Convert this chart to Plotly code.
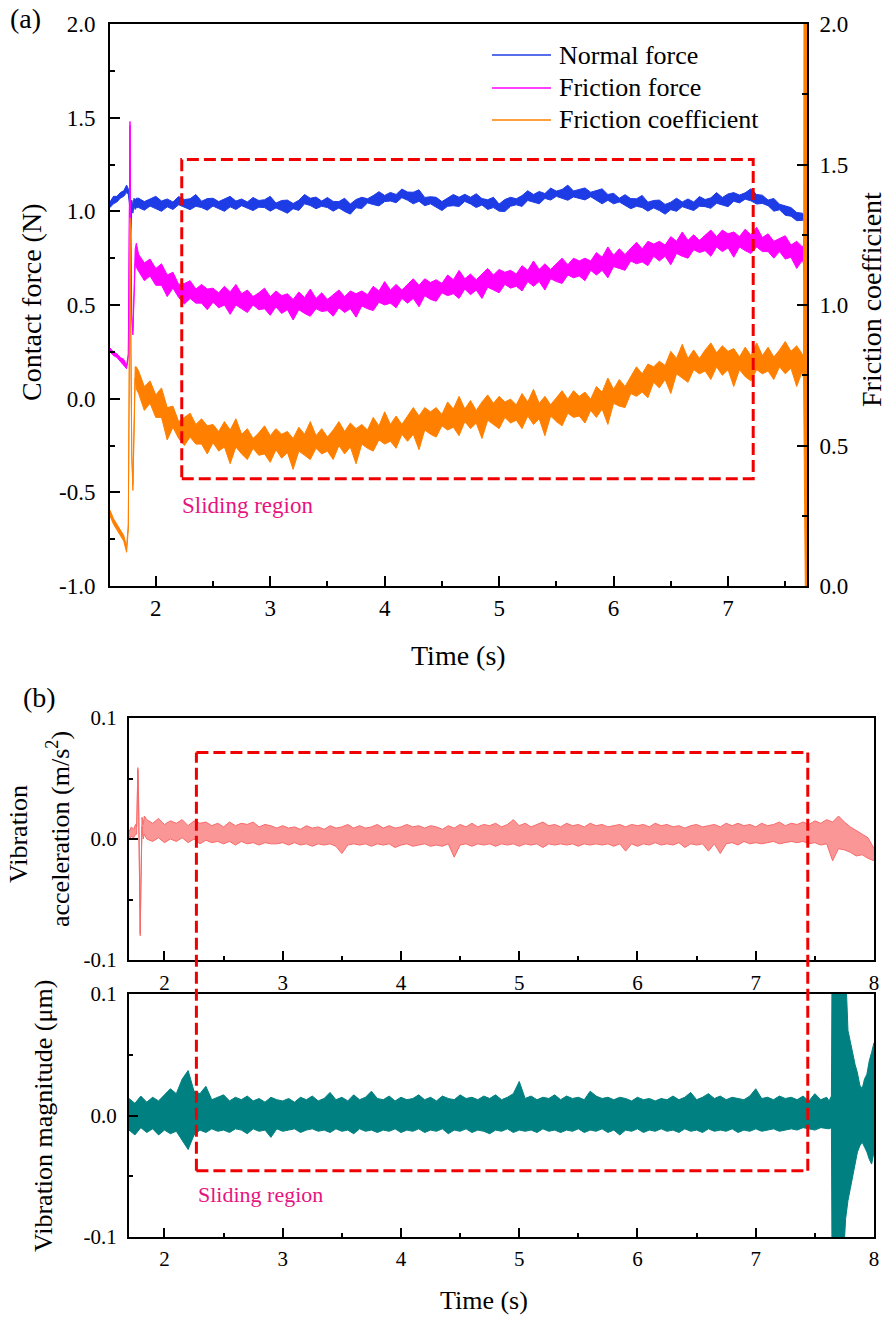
import plotly.graph_objects as go

# ---------------- data: panel (a) ----------------
t_a_start = [1.60, 1.63, 1.66, 1.69, 1.72, 1.745, 1.76, 1.77, 1.775, 1.78, 1.785, 1.79, 1.80, 1.81, 1.82, 1.83]
t_a_main = [round(1.85 + 0.05 * i, 2) for i in range(117)]
t_a_end = [7.66, 7.665, 7.67, 7.675, 7.68, 7.685, 7.69]
t_a = t_a_start + t_a_main + t_a_end

normal_hi = ([1.05, 1.08, 1.08, 1.10, 1.11, 1.14, 1.12, 1.06, 0.95, 0.90, 0.97, 1.06, 1.03, 1.07, 1.06, 1.07] +
    [1.070, 1.052, 1.066, 1.080, 1.055, 1.066, 1.050, 1.079, 1.063, 1.067,
     1.090, 1.054, 1.068, 1.070, 1.052, 1.064, 1.080, 1.055, 1.066, 1.050,
     1.074, 1.058, 1.062, 1.080, 1.044, 1.058, 1.060, 1.042, 1.059, 1.090,
     1.070, 1.076, 1.055, 1.074, 1.053, 1.052, 1.070, 1.039, 1.063, 1.075,
     1.067, 1.084, 1.105, 1.085, 1.101, 1.090, 1.119, 1.103, 1.102, 1.115,
     1.074, 1.078, 1.075, 1.052, 1.069, 1.090, 1.075, 1.091, 1.075, 1.094,
     1.068, 1.062, 1.075, 1.039, 1.063, 1.075, 1.067, 1.084, 1.110, 1.090,
     1.106, 1.095, 1.124, 1.108, 1.117, 1.140, 1.109, 1.118, 1.125, 1.102,
     1.109, 1.120, 1.090, 1.096, 1.070, 1.089, 1.068, 1.067, 1.085, 1.049,
     1.058, 1.060, 1.037, 1.049, 1.070, 1.050, 1.066, 1.050, 1.079, 1.063,
     1.072, 1.100, 1.074, 1.093, 1.100, 1.087, 1.099, 1.120, 1.090, 1.086,
     1.060, 1.069, 1.038, 1.027, 1.020, 0.994, 0.990] +
    [0.98, 0.97, 0.98, 0.97, 0.97, 0.97, 0.97])
normal_lo = ([1.02, 1.04, 1.05, 1.07, 1.08, 1.10, 1.09, 1.04, 0.93, 0.88, 0.95, 1.02, 0.99, 1.03, 1.01, 1.02] +
    [1.020, 1.006, 1.028, 1.014, 1.000, 1.024, 1.010, 1.035, 1.021, 1.009,
     1.027, 1.020, 1.006, 1.028, 1.014, 1.000, 1.024, 1.010, 1.030, 1.016,
     1.004, 1.022, 1.020, 1.001, 1.018, 1.004, 0.990, 1.014, 1.005, 1.040,
     1.031, 1.014, 1.027, 1.020, 1.001, 1.018, 0.999, 0.985, 1.019, 1.015,
     1.045, 1.036, 1.029, 1.052, 1.055, 1.046, 1.073, 1.059, 1.040, 1.054,
     1.030, 1.040, 1.021, 1.004, 1.027, 1.030, 1.026, 1.053, 1.039, 1.020,
     1.034, 1.010, 1.020, 1.001, 0.999, 1.027, 1.035, 1.026, 1.058, 1.049,
     1.040, 1.069, 1.060, 1.080, 1.071, 1.059, 1.077, 1.070, 1.061, 1.078,
     1.059, 1.040, 1.059, 1.040, 1.050, 1.031, 1.014, 1.027, 1.020, 1.001,
     1.018, 1.004, 0.985, 1.009, 1.000, 1.025, 1.016, 1.004, 1.027, 1.025,
     1.016, 1.043, 1.034, 1.025, 1.054, 1.045, 1.065, 1.056, 1.039, 1.042,
     1.030, 1.001, 1.008, 0.979, 0.974, 0.950, 0.952] +
    [0.95, 0.95, 0.95, 0.94, 0.95, 0.94, 0.95])

friction_hi = ([0.27, 0.25, 0.24, 0.22, 0.21, 0.18, 0.24, 0.95, 1.48, 1.00, 0.60, 0.45, 0.36, 0.58, 0.80, 0.83] +
    [0.770, 0.725, 0.745, 0.695, 0.720, 0.660, 0.675, 0.610, 0.615, 0.630,
     0.585, 0.610, 0.585, 0.590, 0.565, 0.600, 0.570, 0.610, 0.560, 0.580,
     0.545, 0.565, 0.590, 0.545, 0.575, 0.550, 0.560, 0.530, 0.570, 0.540,
     0.585, 0.535, 0.565, 0.530, 0.555, 0.580, 0.545, 0.575, 0.560, 0.575,
     0.555, 0.600, 0.575, 0.625, 0.580, 0.610, 0.580, 0.610, 0.640, 0.605,
     0.640, 0.620, 0.635, 0.615, 0.660, 0.635, 0.685, 0.640, 0.665, 0.635,
     0.665, 0.695, 0.660, 0.690, 0.675, 0.685, 0.665, 0.710, 0.685, 0.735,
     0.690, 0.720, 0.690, 0.720, 0.750, 0.715, 0.750, 0.735, 0.750, 0.735,
     0.780, 0.755, 0.810, 0.765, 0.800, 0.770, 0.805, 0.835, 0.800, 0.840,
     0.825, 0.840, 0.820, 0.865, 0.840, 0.890, 0.845, 0.875, 0.845, 0.875,
     0.900, 0.865, 0.900, 0.880, 0.890, 0.865, 0.905, 0.875, 0.915, 0.860,
     0.880, 0.840, 0.855, 0.870, 0.820, 0.840, 0.810] +
    [0.82, 0.90, 0.86, 0.84, 0.82, 0.80, 0.80])
friction_lo = ([0.25, 0.23, 0.22, 0.20, 0.18, 0.16, 0.22, 0.93, 1.46, 0.98, 0.58, 0.43, 0.34, 0.56, 0.72, 0.70] +
    [0.680, 0.630, 0.655, 0.605, 0.605, 0.545, 0.590, 0.540, 0.505, 0.535,
     0.510, 0.510, 0.475, 0.515, 0.485, 0.500, 0.450, 0.500, 0.480, 0.460,
     0.500, 0.475, 0.480, 0.445, 0.490, 0.455, 0.475, 0.420, 0.475, 0.455,
     0.440, 0.480, 0.465, 0.470, 0.440, 0.485, 0.460, 0.480, 0.435, 0.495,
     0.480, 0.470, 0.515, 0.500, 0.510, 0.485, 0.535, 0.510, 0.535, 0.490,
     0.550, 0.530, 0.520, 0.565, 0.550, 0.560, 0.535, 0.585, 0.555, 0.580,
     0.535, 0.595, 0.580, 0.565, 0.610, 0.590, 0.600, 0.575, 0.625, 0.600,
     0.625, 0.580, 0.640, 0.625, 0.615, 0.660, 0.645, 0.655, 0.630, 0.685,
     0.660, 0.685, 0.645, 0.705, 0.695, 0.685, 0.735, 0.720, 0.730, 0.710,
     0.760, 0.735, 0.760, 0.715, 0.775, 0.760, 0.750, 0.795, 0.780, 0.790,
     0.760, 0.810, 0.785, 0.805, 0.755, 0.810, 0.790, 0.775, 0.810, 0.785,
     0.785, 0.750, 0.785, 0.745, 0.755, 0.695, 0.740] +
    [0.72, 0.63, 0.66, 0.70, 0.72, 0.74, 0.74])

coef_hi = ([0.27, 0.24, 0.22, 0.20, 0.18, 0.14, 0.22, 0.90, 1.31, 1.00, 0.70, 0.48, 0.36, 0.56, 0.78, 0.78] +
    [0.765, 0.710, 0.730, 0.680, 0.705, 0.635, 0.640, 0.585, 0.600, 0.615,
     0.575, 0.595, 0.570, 0.575, 0.550, 0.585, 0.555, 0.595, 0.540, 0.560,
     0.525, 0.545, 0.570, 0.535, 0.560, 0.540, 0.550, 0.525, 0.565, 0.540,
     0.585, 0.535, 0.560, 0.530, 0.555, 0.585, 0.550, 0.580, 0.560, 0.575,
     0.555, 0.600, 0.570, 0.620, 0.575, 0.605, 0.575, 0.605, 0.635, 0.605,
     0.635, 0.620, 0.635, 0.610, 0.655, 0.630, 0.675, 0.630, 0.660, 0.625,
     0.655, 0.680, 0.650, 0.675, 0.655, 0.665, 0.645, 0.685, 0.655, 0.700,
     0.650, 0.675, 0.645, 0.670, 0.695, 0.665, 0.695, 0.675, 0.690, 0.665,
     0.710, 0.690, 0.740, 0.700, 0.735, 0.710, 0.745, 0.780, 0.755, 0.790,
     0.780, 0.800, 0.785, 0.835, 0.810, 0.860, 0.810, 0.840, 0.810, 0.840,
     0.865, 0.830, 0.855, 0.835, 0.845, 0.815, 0.850, 0.820, 0.865, 0.820,
     0.850, 0.815, 0.840, 0.870, 0.835, 0.855, 0.825] +
    [0.82, 2.5, 2.5, 2.5, 2.5, 2.5, 2.5])
coef_lo = ([0.25, 0.22, 0.20, 0.18, 0.16, 0.12, 0.20, 0.88, 1.29, 0.98, 0.68, 0.46, 0.34, 0.54, 0.74, 0.70] +
    [0.685, 0.625, 0.650, 0.600, 0.600, 0.520, 0.565, 0.525, 0.500, 0.530,
     0.505, 0.505, 0.470, 0.510, 0.480, 0.495, 0.435, 0.495, 0.470, 0.450,
     0.490, 0.465, 0.470, 0.440, 0.485, 0.455, 0.475, 0.415, 0.480, 0.465,
     0.450, 0.490, 0.470, 0.480, 0.450, 0.500, 0.470, 0.495, 0.435, 0.505,
     0.490, 0.480, 0.520, 0.505, 0.515, 0.490, 0.540, 0.515, 0.540, 0.485,
     0.555, 0.540, 0.530, 0.570, 0.555, 0.565, 0.535, 0.585, 0.560, 0.580,
     0.525, 0.590, 0.575, 0.560, 0.600, 0.580, 0.590, 0.560, 0.605, 0.575,
     0.595, 0.535, 0.605, 0.585, 0.570, 0.615, 0.600, 0.605, 0.580, 0.625,
     0.600, 0.630, 0.575, 0.650, 0.640, 0.635, 0.685, 0.675, 0.690, 0.670,
     0.725, 0.705, 0.735, 0.685, 0.755, 0.740, 0.725, 0.770, 0.755, 0.765,
     0.735, 0.780, 0.750, 0.770, 0.710, 0.770, 0.745, 0.730, 0.770, 0.755,
     0.765, 0.735, 0.780, 0.755, 0.775, 0.710, 0.765] +
    [0.74, -0.5, -0.5, -0.5, -0.5, -0.5, -0.5])

# ---------------- data: panel (b) ----------------
t_acc = ([1.70, 1.72, 1.74, 1.755, 1.765, 1.77, 1.775, 1.78, 1.785, 1.79, 1.795, 1.80, 1.805, 1.81, 1.82, 1.83] +
         [round(1.85 + 0.05 * i, 2) for i in range(124)])
acc_hi = ([0.006, 0.010, 0.008, 0.012, 0.010, 0.030, 0.059, 0.040, 0.000, -0.050, -0.078, -0.040, 0.000, 0.018, 0.012, 0.019] +
    [0.016, 0.013, 0.017, 0.012, 0.015, 0.013, 0.016, 0.011, 0.015, 0.013,
     0.014, 0.011, 0.013, 0.010, 0.014, 0.011, 0.013, 0.012, 0.014, 0.010,
     0.012, 0.011, 0.009, 0.011, 0.009, 0.010, 0.008, 0.011, 0.009, 0.010,
     0.008, 0.011, 0.009, 0.010, 0.012, 0.009, 0.011, 0.009, 0.010, 0.012,
     0.009, 0.011, 0.009, 0.010, 0.012, 0.010, 0.011, 0.009, 0.011, 0.010,
     0.008, 0.011, 0.009, 0.012, 0.010, 0.013, 0.010, 0.012, 0.011, 0.013,
     0.010, 0.012, 0.016, 0.011, 0.013, 0.010, 0.012, 0.014, 0.011, 0.012,
     0.010, 0.013, 0.011, 0.012, 0.010, 0.013, 0.011, 0.012, 0.010, 0.011,
     0.012, 0.010, 0.012, 0.011, 0.012, 0.010, 0.013, 0.011, 0.012, 0.010,
     0.011, 0.009, 0.011, 0.012, 0.010, 0.011, 0.012, 0.010, 0.013, 0.011,
     0.013, 0.011, 0.012, 0.010, 0.013, 0.011, 0.012, 0.014, 0.011, 0.013,
     0.012, 0.014, 0.012, 0.015, 0.013, 0.016, 0.014, 0.019, 0.014, 0.010,
     0.007, 0.004, 0.001, -0.008])
acc_lo = ([0.000, 0.002, 0.001, 0.004, 0.004, 0.028, 0.057, 0.038, -0.002, -0.052, -0.080, -0.042, -0.002, 0.010, 0.000, 0.004] +
    [0.000, -0.002, 0.001, -0.003, 0.000, -0.002, 0.001, -0.003, 0.000, -0.004,
     -0.001, -0.003, -0.002, -0.004, -0.002, -0.005, -0.002, -0.004, -0.003, -0.005,
     -0.003, -0.004, -0.004, -0.003, -0.005, -0.003, -0.005, -0.004, -0.006, -0.004,
     -0.005, -0.004, -0.006, -0.012, -0.005, -0.004, -0.005, -0.004, -0.006, -0.004,
     -0.005, -0.004, -0.007, -0.005, -0.004, -0.006, -0.005, -0.004, -0.006, -0.005,
     -0.006, -0.004, -0.015, -0.005, -0.004, -0.006, -0.004, -0.005, -0.004, -0.006,
     -0.004, -0.005, -0.004, -0.006, -0.004, -0.005, -0.004, -0.007, -0.004, -0.005,
     -0.004, -0.005, -0.004, -0.006, -0.004, -0.005, -0.004, -0.005, -0.004, -0.006,
     -0.004, -0.010, -0.004, -0.006, -0.004, -0.005, -0.003, -0.005, -0.004, -0.005,
     -0.003, -0.007, -0.004, -0.005, -0.004, -0.010, -0.004, -0.012, -0.004, -0.003,
     -0.005, -0.002, -0.004, -0.003, -0.004, -0.003, -0.002, -0.004, -0.003, -0.002,
     -0.003, -0.002, -0.004, -0.003, -0.005, -0.004, -0.018, -0.008, -0.009, -0.011,
     -0.014, -0.013, -0.016, -0.018])

t_mag = ([round(1.70 + 0.05 * i, 2) for i in range(119)] +
         [7.62, 7.64, 7.645, 7.66, 7.68, 7.70, 7.72, 7.74, 7.76, 7.78, 7.80,
          7.82, 7.84, 7.86, 7.88, 7.90, 7.92, 7.94, 7.96, 7.98, 8.00])
mag_hi = ([0.014, 0.010, 0.016, 0.011, 0.015, 0.012, 0.017, 0.022, 0.018, 0.030,
     0.037, 0.020, 0.018, 0.024, 0.013, 0.015, 0.017, 0.012, 0.015, 0.013,
     0.016, 0.012, 0.014, 0.011, 0.015, 0.013, 0.012, 0.014, 0.011, 0.015,
     0.013, 0.016, 0.012, 0.014, 0.019, 0.013, 0.015, 0.012, 0.017, 0.013,
     0.015, 0.020, 0.014, 0.013, 0.016, 0.012, 0.015, 0.013, 0.014, 0.017,
     0.013, 0.015, 0.012, 0.016, 0.014, 0.013, 0.017, 0.014, 0.015, 0.013,
     0.016, 0.014, 0.017, 0.013, 0.015, 0.018, 0.028, 0.014, 0.016, 0.013,
     0.015, 0.014, 0.017, 0.013, 0.016, 0.014, 0.015, 0.013, 0.020, 0.016,
     0.014, 0.015, 0.013, 0.015, 0.014, 0.012, 0.015, 0.013, 0.014, 0.012,
     0.014, 0.013, 0.016, 0.013, 0.015, 0.019, 0.013, 0.015, 0.018, 0.014,
     0.016, 0.013, 0.015, 0.014, 0.013, 0.016, 0.022, 0.014, 0.015, 0.013,
     0.016, 0.014, 0.015, 0.013, 0.016, 0.012, 0.018, 0.013, 0.015] +
    [0.012, 0.016, 0.12, 0.12, 0.12, 0.12, 0.12, 0.12, 0.12, 0.07, 0.06,
     0.05, 0.042, 0.035, 0.025, 0.022, 0.03, 0.034, 0.045, 0.052, 0.06])
mag_lo = ([-0.012, -0.016, -0.010, -0.014, -0.011, -0.016, -0.012, -0.015, -0.013, -0.020,
     -0.028, -0.016, -0.012, -0.014, -0.011, -0.013, -0.012, -0.014, -0.011, -0.012,
     -0.015, -0.011, -0.013, -0.012, -0.018, -0.011, -0.013, -0.012, -0.011, -0.014,
     -0.012, -0.011, -0.013, -0.012, -0.014, -0.011, -0.013, -0.012, -0.015, -0.011,
     -0.013, -0.012, -0.014, -0.012, -0.013, -0.011, -0.014, -0.012, -0.013, -0.011,
     -0.014, -0.012, -0.013, -0.011, -0.015, -0.012, -0.013, -0.011, -0.014, -0.012,
     -0.013, -0.015, -0.012, -0.013, -0.011, -0.014, -0.012, -0.013, -0.012, -0.014,
     -0.011, -0.013, -0.012, -0.014, -0.012, -0.013, -0.011, -0.014, -0.012, -0.013,
     -0.011, -0.014, -0.012, -0.016, -0.012, -0.013, -0.011, -0.014, -0.012, -0.013,
     -0.011, -0.013, -0.012, -0.014, -0.011, -0.013, -0.012, -0.014, -0.011, -0.013,
     -0.012, -0.013, -0.011, -0.014, -0.012, -0.013, -0.011, -0.013, -0.012, -0.011,
     -0.013, -0.012, -0.011, -0.012, -0.010, -0.011, -0.012, -0.010, -0.011] +
    [-0.011, -0.010, -0.12, -0.12, -0.12, -0.12, -0.12, -0.12, -0.085, -0.07, -0.06,
     -0.05, -0.04, -0.03, -0.025, -0.022, -0.026, -0.03, -0.036, -0.04, -0.03])

# ticks / labels
a_xticks = [2, 3, 4, 5, 6, 7]
a_yticks = [-1.0, -0.5, 0.0, 0.5, 1.0, 1.5, 2.0]
a_yticktext = ["-1.0", "-0.5", "0.0", "0.5", "1.0", "1.5", "2.0"]
a_y2ticks = [0.0, 0.5, 1.0, 1.5, 2.0]
a_y2ticktext = ["0.0", "0.5", "1.0", "1.5", "2.0"]
b_xticks = [2, 3, 4, 5, 6, 7, 8]
b_yticks = [-0.1, 0.0, 0.1]
b_yticktext = ["-0.1", "0.0", "0.1"]

# sliding-region boxes (data units)
box_a = dict(t0=2.227, t1=7.22, lo=-0.427, hi=1.277)
box_b = dict(t0=2.27, t1=7.44, hi_acc=0.0715, lo_mag=-0.0455)

# ---------------- layout geometry ----------------
W, H = 896, 1319
def px_x(p):
    return p / W
def px_y(p):
    return 1 - p / H

FONT = "Liberation Serif, Times New Roman, serif"
C_NORMAL = "#1e3ce6"
C_FRIC = "#ff00ff"
C_COEF = "#ff8000"
C_ACC = "#f86a6a"
C_MAG = "#008080"
C_BOX = "#f00000"
C_TXT = "#e6147f"

dom_ax = [px_x(110), px_x(807)]
dom_ay = [px_y(586), px_y(24)]
dom_bx = [px_x(129), px_x(874)]
dom_by1 = [px_y(960), px_y(718)]
dom_by2 = [px_y(1237), px_y(994)]
rng_ax = [1.6, 7.69]
rng_bx = [1.7, 8.0]
rng_b = [-0.1, 0.1]

fig = go.Figure()

def band(t, hi, lo, color, fill, xa, ya, w=1.0):
    fig.add_trace(go.Scatter(x=t, y=lo, mode="lines", line=dict(color=color, width=w),
                             xaxis=xa, yaxis=ya, showlegend=False, hoverinfo="skip"))
    fig.add_trace(go.Scatter(x=t, y=hi, mode="lines", line=dict(color=color, width=w),
                             fill="tonexty", fillcolor=fill,
                             xaxis=xa, yaxis=ya, showlegend=False, hoverinfo="skip"))

band(t_a, normal_hi, normal_lo, C_NORMAL, C_NORMAL, "x", "y")
band(t_a, friction_hi, friction_lo, C_FRIC, C_FRIC, "x", "y")
band(t_a, coef_hi, coef_lo, C_COEF, C_COEF, "x", "y2")
band(t_acc, acc_hi, acc_lo, C_ACC, "rgba(248,106,106,0.7)", "x2", "y3")
band(t_mag, mag_hi, mag_lo, C_MAG, C_MAG, "x3", "y4")

def minor(dt, ln):
    return dict(ticks="inside", ticklen=ln, tickwidth=2, tickcolor="black", dtick=dt, tick0=0, showgrid=False)

def axis(**kw):
    d = dict(showline=True, linecolor="black", linewidth=2, ticks="inside", ticklen=10,
             tickwidth=2, tickcolor="black", showgrid=False, zeroline=False, mirror=True,
             automargin=False, ticklabelstandoff=6)
    d.update(kw)
    return d

tf_a = dict(family=FONT, size=23, color="black")
tf_b = dict(family=FONT, size=21, color="black")

fig.update_layout(
    width=W, height=H, template="none",
    margin=dict(l=0, r=0, t=0, b=0),
    font=dict(family=FONT, color="black"),
    paper_bgcolor="white", plot_bgcolor="white", showlegend=False,
    xaxis=axis(domain=dom_ax, range=rng_ax, anchor="y", tickvals=a_xticks, tickfont=tf_a,
               ticklabelstandoff=0, minor=minor(0.5, 5)),
    yaxis=axis(domain=dom_ay, range=[-1, 2], anchor="x", tickvals=a_yticks, ticktext=a_yticktext,
               tickfont=tf_a, mirror=False, ticklabelstandoff=8, minor=minor(0.25, 5)),
    yaxis2=axis(domain=dom_ay, range=[0, 2], overlaying="y", side="right", anchor="x",
                tickvals=a_y2ticks, ticktext=a_y2ticktext, tickfont=tf_a, mirror=False,
                ticklabelstandoff=6, minor=minor(0.25, 5)),
    xaxis2=axis(domain=dom_bx, range=rng_bx, anchor="y3", tickvals=b_xticks, tickfont=tf_b,
                ticklen=9, ticklabelstandoff=3, minor=minor(0.5, 4)),
    yaxis3=axis(domain=dom_by1, range=rng_b, anchor="x2", tickvals=b_yticks, ticktext=b_yticktext,
                tickfont=tf_b, ticklen=9, minor=minor(0.05, 4)),
    xaxis3=axis(domain=dom_bx, range=rng_bx, anchor="y4", tickvals=b_xticks, tickfont=tf_b,
                ticklen=9, ticklabelstandoff=2, minor=minor(0.5, 4)),
    yaxis4=axis(domain=dom_by2, range=rng_b, anchor="x3", tickvals=b_yticks, ticktext=b_yticktext,
                tickfont=tf_b, ticklen=9, minor=minor(0.05, 4)),
)

def to_paper(v, dom, rng):
    return dom[0] + (v - rng[0]) / (rng[1] - rng[0]) * (dom[1] - dom[0])

dash = "12px,5px"
shapes = []
shapes.append(dict(type="rect", xref="x", yref="y", x0=box_a["t0"], x1=box_a["t1"],
                   y0=box_a["lo"], y1=box_a["hi"], line=dict(color=C_BOX, width=3, dash=dash)))
yb_top = to_paper(box_b["hi_acc"], dom_by1, rng_b)
yb_bot = to_paper(box_b["lo_mag"], dom_by2, rng_b)
shapes.append(dict(type="line", xref="x2", yref="paper", x0=box_b["t0"], x1=box_b["t1"],
                   y0=yb_top, y1=yb_top, line=dict(color=C_BOX, width=3, dash=dash)))
shapes.append(dict(type="line", xref="x2", yref="paper", x0=box_b["t0"], x1=box_b["t1"],
                   y0=yb_bot, y1=yb_bot, line=dict(color=C_BOX, width=3, dash=dash)))
for tt in (box_b["t0"], box_b["t1"]):
    shapes.append(dict(type="line", xref="x2", yref="paper", x0=tt, x1=tt,
                       y0=yb_bot, y1=yb_top, line=dict(color=C_BOX, width=3, dash=dash)))

legend_items = [("Normal force", C_NORMAL, 55), ("Friction force", C_FRIC, 88), ("Friction coefficient", C_COEF, 120)]
annotations = []
for name, col, yy in legend_items:
    shapes.append(dict(type="line", xref="paper", yref="paper", x0=px_x(492), x1=px_x(551),
                       y0=px_y(yy), y1=px_y(yy), line=dict(color=col, width=1.5)))
    annotations.append(dict(text=name, xref="paper", yref="paper", x=px_x(557), y=px_y(yy),
                            xanchor="left", yanchor="middle", showarrow=False,
                            font=dict(family=FONT, size=26, color="black")))

def ann(text, x, y, size, angle=0, anchor="center", color="black"):
    annotations.append(dict(text=text, xref="paper", yref="paper", x=x, y=y, textangle=angle,
                            xanchor=anchor, yanchor="middle", showarrow=False,
                            font=dict(family=FONT, size=size, color=color)))

ann("(a)", px_x(8), px_y(18), 28, anchor="left")
ann("Contact force (N)", px_x(31), px_y(303), 28, angle=-90)
ann("Friction coefficient", px_x(871), px_y(300), 28, angle=-90)
ann("Time (s)", px_x(458), px_y(655), 28)
ann("(b)", px_x(21), px_y(697), 28, anchor="left")
ann("Vibration", px_x(18), px_y(834), 26, angle=-90)
ann("acceleration (m/s<sup>2</sup>)", px_x(58), px_y(829), 26, angle=-90)
ann("Vibration magnitude (μm)", px_x(43), px_y(1116), 26, angle=-90)
ann("Time (s)", px_x(484), px_y(1300), 26)

annotations.append(dict(text="Sliding region", xref="x", yref="y", x=2.21, y=-0.57,
                        xanchor="left", yanchor="middle", showarrow=False,
                        font=dict(family=FONT, size=23, color=C_TXT)))
annotations.append(dict(text="Sliding region", xref="x3", yref="y4", x=2.27, y=-0.065,
                        xanchor="left", yanchor="middle", showarrow=False,
                        font=dict(family=FONT, size=22, color=C_TXT)))

fig.update_layout(shapes=shapes, annotations=annotations)
fig.write_html("out.html", config={"displayModeBar": False, "staticPlot": True},
               post_script="document.body.style.margin='0';document.body.style.overflow='hidden';")
